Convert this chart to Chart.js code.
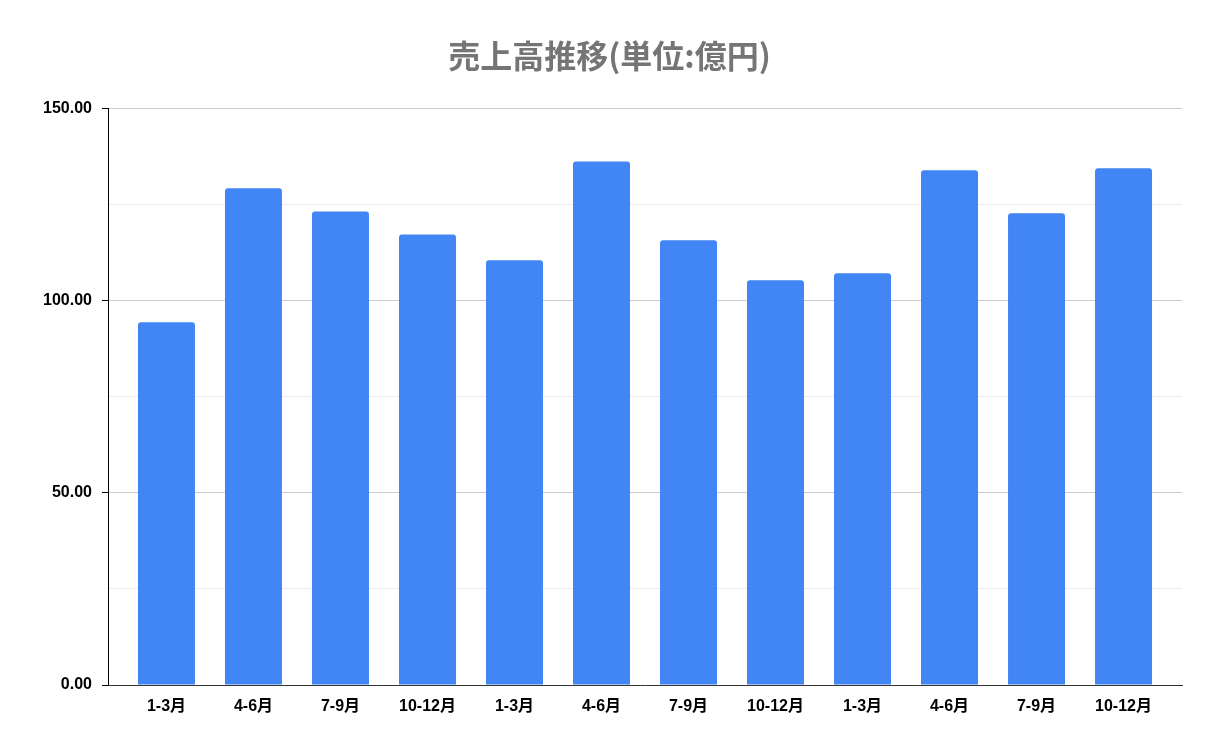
<!DOCTYPE html>
<html>
<head>
<meta charset="utf-8">
<script src="https://cdn.jsdelivr.net/npm/chart.js@4"></script>
<style>
  body { margin: 0; background: #fff; }
  #wrap { width: 1219px; height: 754px; position: relative; }
</style>
</head>
<body>
<div id="wrap"><canvas id="grafico"></canvas></div>
<script>
// dados do grafico
const titulo = "売上高推移(単位:億円)";
const categorias = ["1-3月", "4-6月", "7-9月", "10-12月", "1-3月", "4-6月", "7-9月", "10-12月", "1-3月", "4-6月", "7-9月", "10-12月"];
const vendas = [94.4, 129.2, 123.2, 117.2, 110.5, 136.2, 115.7, 105.3, 107.1, 133.9, 122.7, 134.4];
const ticksY = [0, 50, 100, 150];

const fonte = "'Liberation Sans', Arial, 'Noto Sans CJK JP', sans-serif";
const folga = 0.172; // espaco extra nas pontas do eixo x (em categorias)

let ctx = document.getElementById("grafico").getContext("2d");

new Chart(ctx, {
  type: "bar",
  data: {
    labels: categorias,
    datasets: [{
      data: vendas,
      backgroundColor: "#4285F4",
      borderRadius: 3,
      borderSkipped: "bottom",
      barPercentage: 0.655,
      categoryPercentage: 1
    }]
  },
  options: {
    responsive: true,
    maintainAspectRatio: false,
    animation: false,
    layout: { padding: { left: 37, right: 37, top: 20, bottom: 0 } },
    plugins: {
      legend: { display: false },
      tooltip: { enabled: false },
      title: {
        display: true,
        text: titulo,
        color: "#757575",
        font: { family: "'Noto Sans CJK JP', sans-serif", size: 32, weight: "bold" },
        padding: { top: 17, bottom: 33 }
      }
    },
    scales: {
      x: {
        grid: { display: false, drawTicks: false },
        border: { color: "#333", width: 1 },
        ticks: {
          color: "#000",
          font: { family: fonte, size: 16, weight: "bold" },
          padding: 12,
          maxRotation: 0,
          autoSkip: false
        },
        afterBuildTicks: function (scale) {
          scale._startValue -= folga;
          scale._valueRange += folga * 2;
        },
        afterFit: function (scale) { scale.height = 69; }
      },
      y: {
        min: 0,
        max: 150,
        grid: {
          color: function (c) {
            return ticksY.includes(c.tick.value) ? "#cccccc" : "#ebebeb";
          },
          tickColor: function (c) {
            return ticksY.includes(c.tick.value) ? "#000" : "rgba(0,0,0,0)";
          },
          tickLength: 6
        },
        border: { color: "#000", width: 1 },
        ticks: {
          stepSize: 25,
          color: "#000",
          font: { family: fonte, size: 16, weight: "bold" },
          padding: 10,
          callback: function (v) {
            return ticksY.includes(v) ? v.toFixed(2) : "";
          }
        },
        afterFit: function (scale) { scale.width = 71; }
      }
    }
  }
});
</script>
</body>
</html>
